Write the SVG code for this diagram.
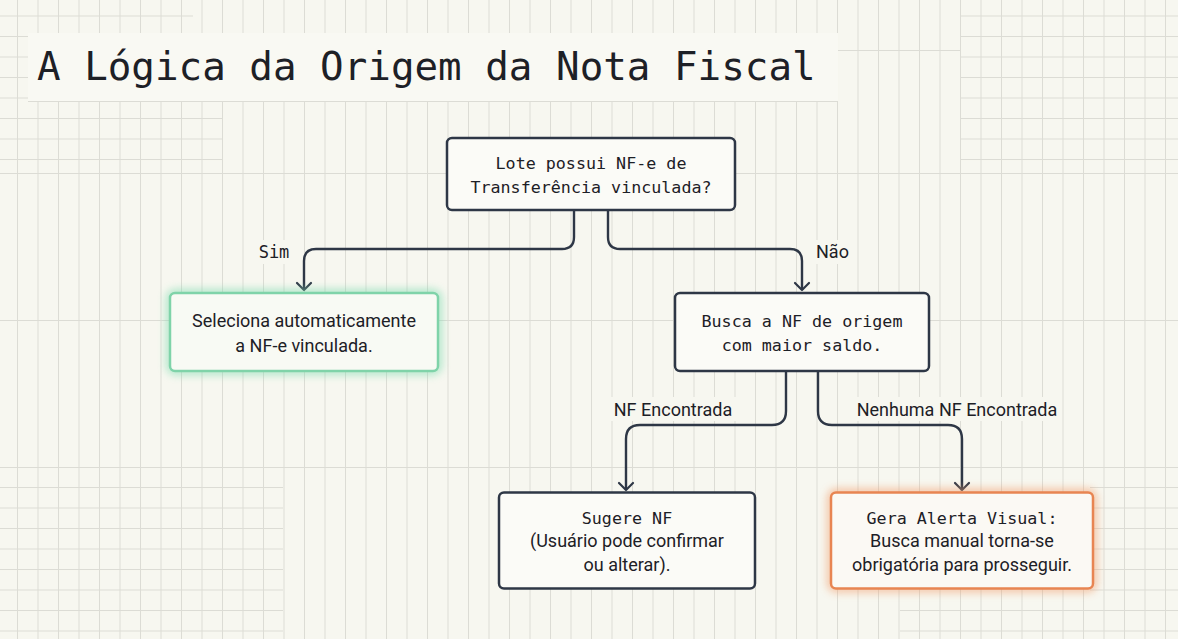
<svg xmlns="http://www.w3.org/2000/svg" width="1178" height="639" viewBox="0 0 1178 639">
  <defs>
    <pattern id="gv" x="17" y="0" width="20.5" height="639" patternUnits="userSpaceOnUse">
      <rect x="0" y="0" width="1" height="639" fill="#dcdcd5"/>
    </pattern>
    <pattern id="gh" x="0" y="15.5" width="1178" height="20.5" patternUnits="userSpaceOnUse">
      <rect x="0" y="0" width="1178" height="1" fill="#dcdcd5"/>
    </pattern>
    <marker id="arr" viewBox="-9 -9 18 18" markerWidth="18" markerHeight="18" refX="0" refY="0" orient="auto" markerUnits="userSpaceOnUse">
      <path d="M-7,-7 L0,0 L-7,7" fill="none" stroke="#2e3746" stroke-width="2.2" stroke-linecap="round" stroke-linejoin="round"/>
    </marker>
    <filter id="blur" x="-20%" y="-40%" width="140%" height="180%">
      <feGaussianBlur stdDeviation="4"/>
    </filter>
    <style>
      .mono { font-family: "DejaVu Sans Mono", "Liberation Mono", monospace; fill: #1d2026; }
      .sans { font-family: Roboto, "Liberation Sans", sans-serif; fill: #1d2026; }
      .box { fill: #fbfbf7; stroke: #2e3746; stroke-width: 2.5; }
      .conn { fill: none; stroke: #2e3746; stroke-width: 2.4; marker-end: url(#arr); }
      .lbg { fill: #f7f7f0; }
      .gline { stroke: #dcdcd5; stroke-width: 1; }
    </style>
  </defs>

  <!-- background -->
  <rect x="0" y="0" width="1178" height="639" fill="#f7f7f0"/>
  <rect x="0" y="0" width="1178" height="639" fill="url(#gv)"/>
  <!-- horizontal grid patches -->
  <rect x="0" y="0" width="193" height="22" fill="url(#gh)"/>
  <rect x="0" y="22" width="28" height="80" fill="url(#gh)"/>
  <rect x="0" y="104" width="222" height="62" fill="url(#gh)"/>
  <rect x="960" y="0" width="218" height="166" fill="url(#gh)"/>
  <rect x="0" y="470" width="283" height="169" fill="url(#gh)"/>
  <rect x="1090" y="470" width="88" height="130" fill="url(#gh)"/>
  <rect x="900" y="600" width="278" height="39" fill="url(#gh)"/>
  <line class="gline" x1="0" y1="173.5" x2="1178" y2="173.5"/>
  <line class="gline" x1="0" y1="320.5" x2="1178" y2="320.5"/>
  <line class="gline" x1="0" y1="467.5" x2="1178" y2="467.5"/>
  <line class="gline" x1="837" y1="50.5" x2="960" y2="50.5"/>

  <!-- title band -->
  <rect x="28" y="33" width="810" height="69" fill="#f9f9f3"/>
  <line class="gline" x1="28" y1="101.5" x2="838" y2="101.5"/>
  <text class="mono" x="37" y="80" font-size="39.2">A Lógica da Origem da Nota Fiscal</text>

  <!-- connectors -->
  <g id="connectors">
    <path class="conn" d="M574,210 V237 Q574,249 562,249 H316 Q304,249 304,261 V290"/>
    <path class="conn" d="M608,210 V237 Q608,249 620,249 H790 Q802,249 802,261 V290"/>
    <path class="conn" d="M786,371 V411 Q786,425 772,425 H640 Q626,425 626,439 V490"/>
    <path class="conn" d="M818,371 V411 Q818,425 832,425 H948 Q962,425 962,439 V490"/>
    <rect class="lbg" x="253" y="240" width="42" height="24"/>
    <text class="mono" x="274" y="258" font-size="17" text-anchor="middle">Sim</text>
    <rect class="lbg" x="812" y="240" width="42" height="24"/>
    <text class="sans" x="816" y="258" font-size="18">Não</text>
    <rect class="lbg" x="610" y="397" width="126" height="24"/>
    <text class="sans" x="673" y="415.5" font-size="18" text-anchor="middle">NF Encontrada</text>
    <rect class="lbg" x="852" y="397" width="210" height="24"/>
    <text class="sans" x="957" y="415.5" font-size="18" text-anchor="middle">Nenhuma NF Encontrada</text>
  </g>

  <!-- decision -->
  <g id="node-decision">
    <rect class="box" x="447" y="138" width="288" height="72" rx="5"/>
    <text class="mono" x="591" y="169" font-size="16.7" text-anchor="middle">Lote possui NF-e de</text>
    <text class="mono" x="591" y="193" font-size="16.7" text-anchor="middle">Transferência vinculada?</text>
  </g>

  <!-- green -->
  <g id="node-auto">
    <rect x="170" y="293" width="268" height="78" rx="5" fill="none" stroke="#7fdcb0" stroke-width="7" opacity="0.7" filter="url(#blur)"/>
    <rect x="170" y="293" width="268" height="78" rx="5" fill="#f8faf4" stroke="#7fd3a9" stroke-width="2.5"/>
    <text class="sans" x="304" y="327" font-size="18" text-anchor="middle">Seleciona automaticamente</text>
    <text class="sans" x="304" y="352" font-size="18" text-anchor="middle">a NF-e vinculada.</text>
  </g>

  <!-- busca -->
  <g id="node-busca">
    <rect class="box" x="675" y="293" width="254" height="78" rx="5"/>
    <text class="mono" x="802" y="327" font-size="16.7" text-anchor="middle">Busca a NF de origem</text>
    <text class="mono" x="802" y="350.5" font-size="16.7" text-anchor="middle">com maior saldo.</text>
  </g>

  <!-- sugere -->
  <g id="node-sugere">
    <rect class="box" x="499" y="492.5" width="256" height="96" rx="5"/>
    <text class="mono" x="627" y="523.5" font-size="16.7" text-anchor="middle">Sugere NF</text>
    <text class="sans" x="627" y="547" font-size="18" text-anchor="middle">(Usuário pode confirmar</text>
    <text class="sans" x="627" y="570.5" font-size="18" text-anchor="middle">ou alterar).</text>
  </g>

  <!-- alerta -->
  <g id="node-alerta">
    <rect x="831" y="492.5" width="262" height="96" rx="5" fill="none" stroke="#f2a070" stroke-width="7" opacity="0.7" filter="url(#blur)"/>
    <rect x="831" y="492.5" width="262" height="96" rx="5" fill="#fbf9f4" stroke="#e88552" stroke-width="2.5"/>
    <text class="mono" x="962" y="523.5" font-size="16.7" text-anchor="middle">Gera Alerta Visual:</text>
    <text class="sans" x="962" y="547" font-size="18" text-anchor="middle">Busca manual torna-se</text>
    <text class="sans" x="962" y="570.5" font-size="18" text-anchor="middle">obrigatória para prosseguir.</text>
  </g>
</svg>
